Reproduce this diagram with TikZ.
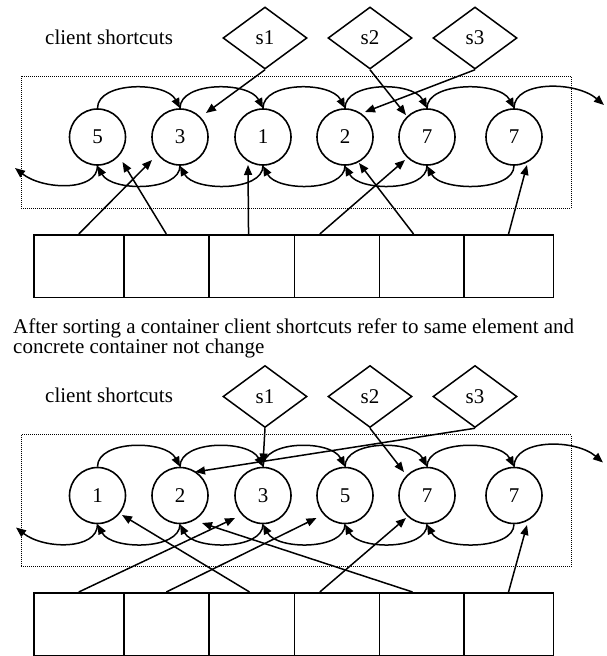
\documentclass[tikz,border=0pt]{standalone}
\usepackage{fontspec}
\setmainfont{Liberation Serif}
\usetikzlibrary{arrows.meta, shapes.geometric, calc}

\tikzset{
  txt/.style={font=\fontsize{21}{25}\selectfont},
  elem/.style={circle, draw, line width=1.6pt, minimum size=56pt, inner sep=0pt, txt},
  shortcut/.style={diamond, draw, line width=1.5pt, minimum width=84pt, minimum height=62pt, inner sep=0pt, txt},
  cell/.style={rectangle, draw, line width=1.6pt, minimum height=62.5pt, inner sep=0pt, anchor=north west},
  link/.style={line width=1.5pt, -{Triangle[length=10pt,width=8pt]}},
  pointer/.style={line width=1.5pt, -{Triangle[length=10pt,width=8pt]}},
  frame/.style={line width=1pt, dash pattern=on 1pt off 1pt},
  txtlabel/.style={txt, inner sep=0pt, anchor=base west},
}

\begin{document}
\begin{tikzpicture}[x=1pt, y=-1pt]
\useasboundingbox (0,0) rectangle (607,656);

% ---------- list before sorting ----------
\node[txtlabel] (ttitle) at (45,44) {client shortcuts};
\node[shortcut] (ts1) at (265,38) {s1};
\node[shortcut] (ts2) at (370,38) {s2};
\node[shortcut] (ts3) at (475,38) {s3};
\draw[frame] (21,76) rectangle (571,208);
\foreach \i/\x/\v in {1/97.5/5, 2/180/3, 3/263/1, 4/345/2, 5/427/7, 6/514/7}
  \node[elem] (t\i) at (\x,137) {\v};
\foreach \i/\x/\w in {1/33/90, 2/123/85, 3/208/85.5, 4/293.5/85, 5/378.5/84.5, 6/463/89.5}
  \node[cell, minimum width=\w pt] (ta\i) at (\x,234) {};
% next / previous links
\foreach \i/\j in {1/2, 2/3, 3/4, 4/5, 5/6} {
  \draw[link] (t\i.north) .. controls +(0,-27) and +(-14,-27) .. (t\j.north);
  \draw[link] (t\j.south) .. controls +(0,26) and +(14,26) .. (t\i.south);
}
\coordinate (tl) at (15,168);
\coordinate (tr) at (604,105);
\draw[link] (t1.south) .. controls +(0,26) and +(28,22) .. (tl);
\draw[link] (t6.north) .. controls +(0,-28) and +(-28,-24) .. (tr);
% shortcuts
\draw[pointer] (ts1.south) -- ($(t2)+(26,-24)$);
\draw[pointer] (ts2.south) -- ($(t5)+(-21,-22)$);
\draw[pointer] (ts3.south) -- ($(t4)+(20,-25)$);
% concrete container
\draw[pointer] (ta1.north) -- ($(t2)+(-28,23)$);
\draw[pointer] (ta2.north) -- ($(t1)+(25,25)$);
\draw[pointer] ($(ta3.north)+(-3,0)$) -- ($(t3)+(-15,28)$);
\draw[pointer] ($(ta4.north)+(-17,0)$) -- ($(t5)+(-22,23)$);
\draw[pointer] ($(ta5.north)+(-8,0)$) -- ($(t4)+(14,26)$);
\draw[pointer] (ta6.north) -- ($(t6)+(13,28)$);

% ---------- caption ----------
\node[txtlabel] (note1) at (13,333) {After sorting a container client shortcuts refer to same element and};
\node[txtlabel] (note2) at (13,353.5) {concrete container not change};

% ---------- list after sorting ----------
\begin{scope}[yshift=-358.5pt]
\node[txtlabel] (btitle) at (45,44) {client shortcuts};
\node[shortcut] (bs1) at (265,38) {s1};
\node[shortcut] (bs2) at (370,38) {s2};
\node[shortcut] (bs3) at (475,38) {s3};
\draw[frame] (21,76) rectangle (571,208);
\foreach \i/\x/\v in {1/97.5/1, 2/180/2, 3/263/3, 4/345/5, 5/427/7, 6/514/7}
  \node[elem] (b\i) at (\x,137) {\v};
\foreach \i/\x/\w in {1/33/90, 2/123/85, 3/208/85.5, 4/293.5/85, 5/378.5/84.5, 6/463/89.5}
  \node[cell, minimum width=\w pt] (ba\i) at (\x,233.5) {};
\foreach \i/\j in {1/2, 2/3, 3/4, 4/5, 5/6} {
  \draw[link] (b\i.north) .. controls +(0,-27) and +(-14,-27) .. (b\j.north);
  \draw[link] (b\j.south) .. controls +(0,26) and +(14,26) .. (b\i.south);
}
\coordinate (bl) at (16,169);
\coordinate (br) at (603,104);
\draw[link] (b1.south) .. controls +(0,26) and +(28,22) .. (bl);
\draw[link] (b6.north) .. controls +(0,-28) and +(-28,-24) .. (br);
\draw[pointer] (bs1.south) -- ($(b3)+(0,-32)$);
\draw[pointer] (bs2.south) -- ($(b5)+(-23,-23.5)$);
\draw[pointer] (bs3.south) -- ($(b2)+(15,-23.5)$);
\draw[pointer] (ba1.north) -- ($(b3)+(-28,22.5)$);
\draw[pointer] (ba2.north) -- ($(b4)+(-28.5,22.5)$);
\draw[pointer] ($(ba3.north)+(-2,0)$) -- ($(b1)+(24.5,19.5)$);
\draw[pointer] ($(ba4.north)+(-17,0)$) -- ($(b5)+(-21,22.5)$);
\draw[pointer] ($(ba5.north)+(-9,0)$) -- ($(b2)+(22,27.5)$);
\draw[pointer] (ba6.north) -- ($(b6)+(13,29.5)$);
\end{scope}
\end{tikzpicture}
\end{document}
